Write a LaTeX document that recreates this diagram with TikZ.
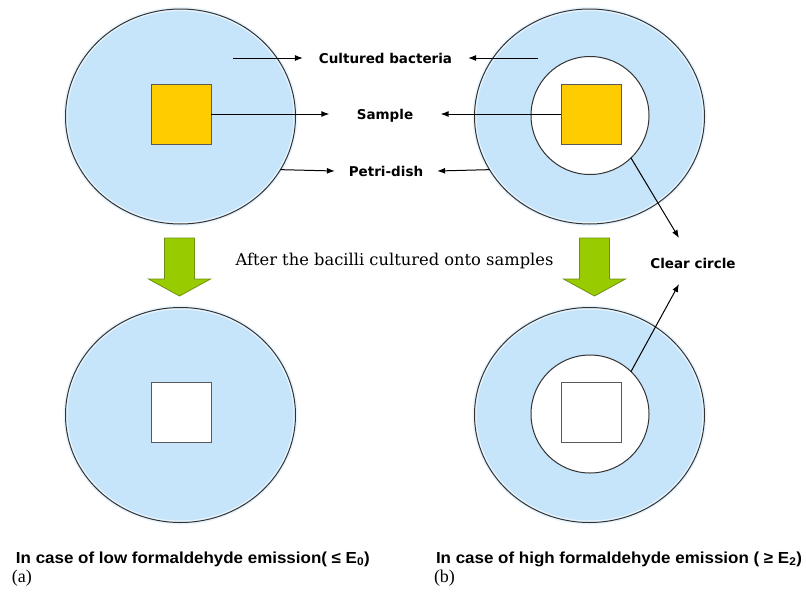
\documentclass[tikz,border=0pt]{standalone}
\usepackage{fontspec}
\usetikzlibrary{shapes.geometric,arrows.meta}
\newfontfamily\labelfont{DejaVu Sans}
\newfontfamily\stepfont{DejaVu Serif}
\newfontfamily\capfont[FakeStretch=1.06]{Liberation Sans}
\newfontfamily\tagfont{Liberation Serif}
\definecolor{dishblue}{HTML}{C6E4FA}
\definecolor{dishrim}{HTML}{E6F4FE}
\definecolor{samplegold}{HTML}{FFCC00}
\definecolor{arrowgreen}{HTML}{99CC00}
\definecolor{arrowedge}{HTML}{6E8F10}
\begin{document}
\begin{tikzpicture}
  [x=1pt,y=-1pt,>={Latex[length=8pt,width=6pt]},every node/.style={inner sep=0pt,outer sep=0pt}]
  \tikzstyle{dish} = [ellipse,minimum width=230pt,minimum height=215pt,fill=dishblue,draw=dishrim,line width=4pt,postaction={draw=black!80,line width=1pt}]
  \tikzstyle{clear} = [circle,minimum size=118pt,fill=white,draw=black!80,line width=1pt]
  \tikzstyle{sample} = [rectangle,minimum size=60pt,fill=samplegold,draw=black!65,line width=1pt]
  \tikzstyle{blank} = [sample,fill=white]
  \tikzstyle{part} = [font=\labelfont\bfseries\fontsize{13.5}{16}\selectfont,text height=11pt,text depth=0pt,inner xsep=16pt]
  \tikzstyle{pointer} = [->,line width=1pt]
  \tikzstyle{down} = [fill=arrowgreen,draw=arrowedge,line width=0.8pt]
  \useasboundingbox (0,0) rectangle (806,595);
  \node[dish] (d1) at (180.5,116.5) {};
  \node[dish] (d2) at (589.5,116.5) {};
  \node[dish] (d3) at (180.5,415) {};
  \node[dish] (d4) at (589.5,415) {};
  \node[clear] (c2) at (590,115.5) {};
  \node[clear] (c4) at (590,414) {};
  \node[sample] (s1) at (181,114) {};
  \node[sample] (s2) at (591,114) {};
  \node[blank] (s3) at (181,412) {};
  \node[blank] (s4) at (591,412) {};
  \node[part] (cb) at (385.5,58) {Cultured bacteria};
  \node[part,inner xsep=27.5pt] (sa) at (385,114) {Sample};
  \node[part,inner xsep=14pt] (pd) at (386,171) {Petri-dish};
  \node[part,inner xsep=0pt] (cc) at (693,263) {Clear circle};
  \coordinate (b1) at (233,58);
  \coordinate (b2) at (538,58);
  \coordinate (cc1) at (679,238);
  \coordinate (cc2) at (679,284);
\foreach \source/\dest in {b1/cb.west,b2/cb.east,s1.east/sa.west,s2.west/sa.east,d1.-28/pd.west,d2.-152/pd.east,c2.-46/cc1,c4.46/cc2}
   \draw[pointer] (\source) -- (\dest);
\foreach \x in {179.5,594.5}
   \draw[down] ({\x-15},238) -- ({\x+15},238) -- ({\x+15},279) -- ({\x+31},279) -- (\x,296) -- ({\x-31},279) -- ({\x-15},279) -- cycle;
  \node[font=\stepfont\fontsize{16.3}{20}\selectfont,anchor=base] (after) at (394.5,265) {After the bacilli cultured onto samples};
  \node[font=\capfont\bfseries\fontsize{16}{19}\selectfont,anchor=base west] (lowcase) at (16,563) {In case of low formaldehyde emission( ≤ E\textsubscript{0})};
  \node[font=\capfont\bfseries\fontsize{16}{19}\selectfont,anchor=base west] (highcase) at (436,563) {In case of high formaldehyde emission ( ≥ E\textsubscript{2})};
  \node[font=\tagfont\fontsize{18}{20}\selectfont,anchor=base west] (taga) at (12,582) {(a)};
  \node[font=\tagfont\fontsize{18}{20}\selectfont,anchor=base west] (tagb) at (434,582) {(b)};
\end{tikzpicture}
\end{document}
